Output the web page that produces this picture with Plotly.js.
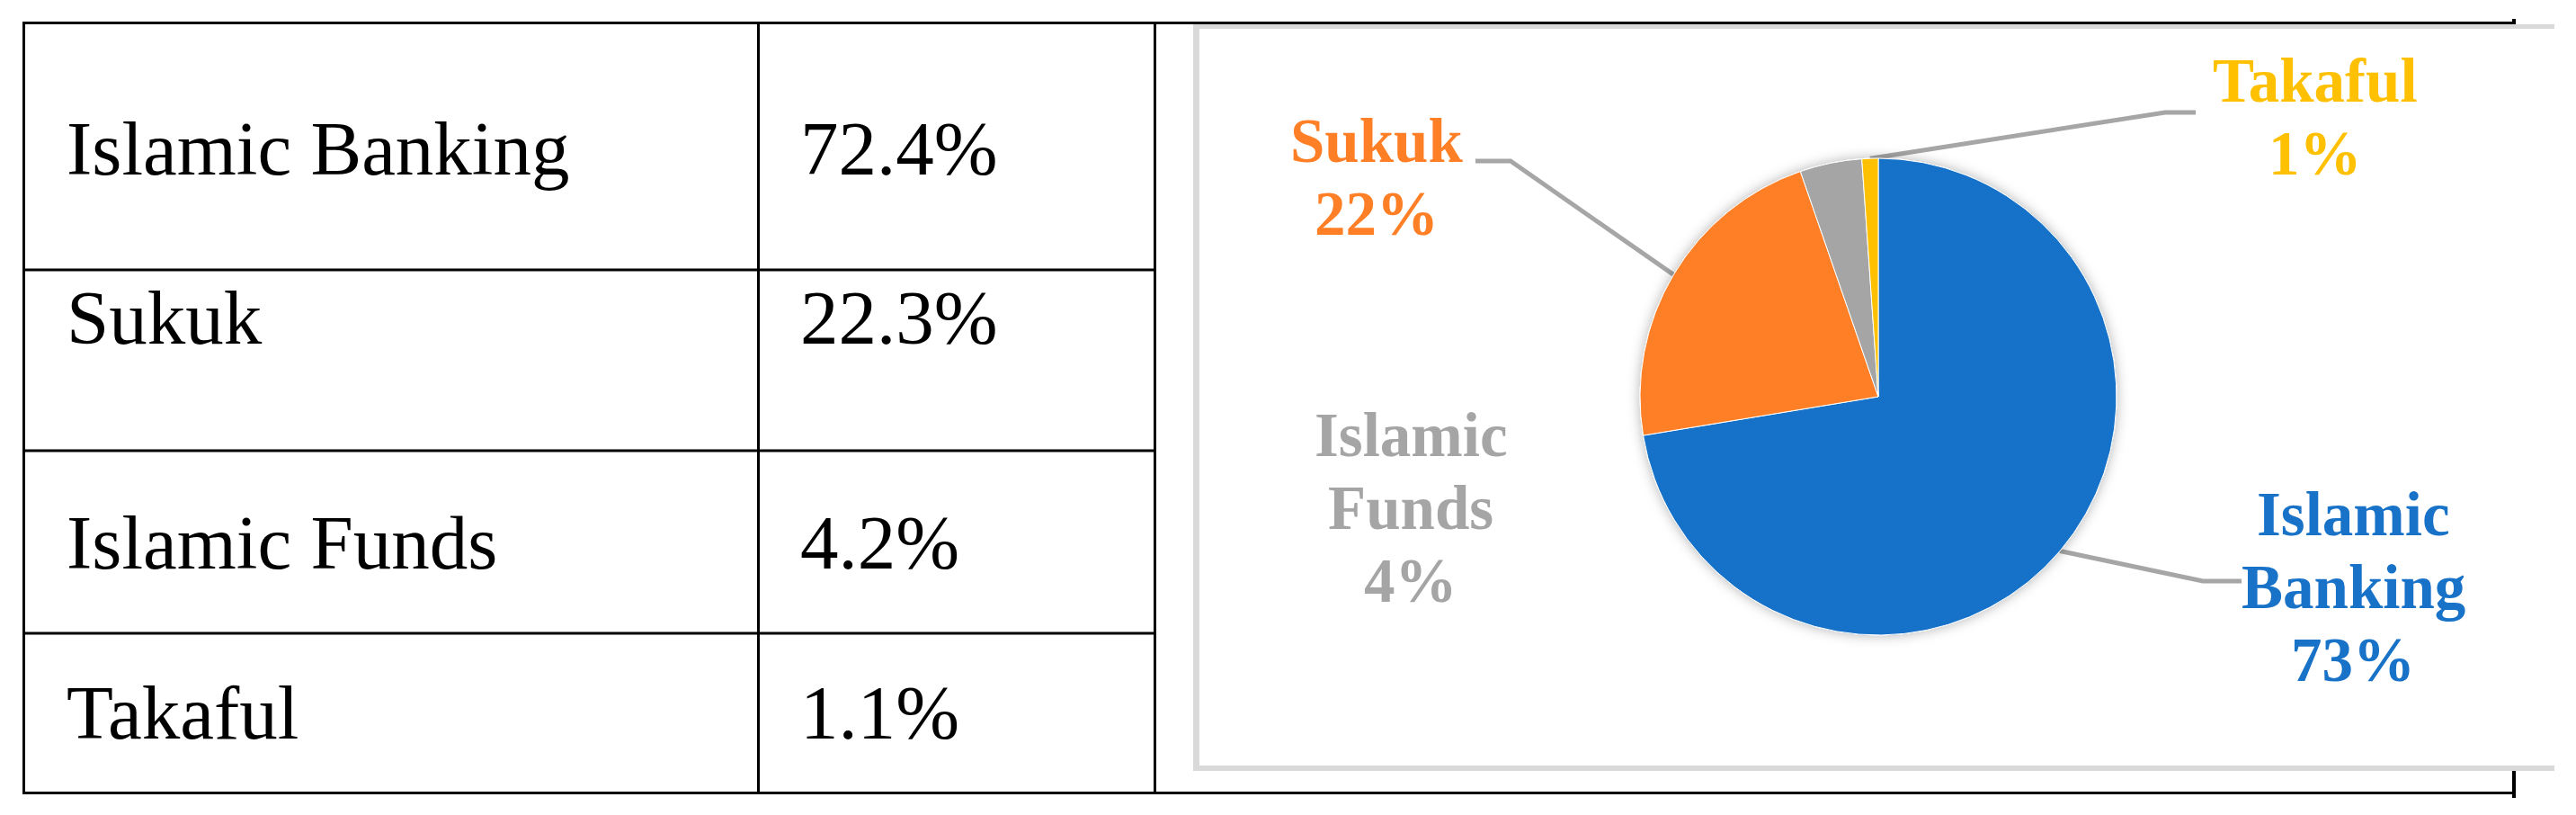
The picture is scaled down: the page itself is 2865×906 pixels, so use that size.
<!DOCTYPE html>
<html>
<head>
<meta charset="utf-8">
<script src="https://cdn.plot.ly/plotly-3.0.1.min.js"></script>
<style>
  html, body { margin: 0; padding: 0; background: #ffffff; }
  #chart { width: 2865px; height: 906px; }
</style>
</head>
<body>
<div id="chart"></div>
<script>
// Data
const categories = ["Islamic Banking", "Sukuk", "Islamic Funds", "Takaful"];
const shares = [72.4, 22.3, 4.2, 1.1];
const pieLabelPct = ["73%", "22%", "4%", "1%"];

// Styles
const sliceColors = ["#1872C8", "#FF7F27", "#A5A5A5", "#FFC000"];
const serif = "Liberation Serif, Times New Roman, serif";

// Layout in page pixels (axes span the whole page, y going down)
const W = 2865, H = 906;
const pieCx = 2089, pieCy = 441, pieR = 265;
const rowTextY = [164.5, 352.5, 603, 792];
const rowLineY = [300, 501, 704];
const labelX = [2617, 1531, 1569, 2575];
const labelY = [572, 157, 484, 90];
const lineStep = 81;
const leaderElbow = [[2450, 646], [1680, 179], null, [2408, 125]];
const leaderEnd = [[2493, 646], [1641, 179], null, [2442, 125]];

const pieTrace = {
  type: "pie",
  labels: categories,
  values: shares,
  sort: false,
  direction: "clockwise",
  rotation: 0,
  textinfo: "none",
  hoverinfo: "label+percent",
  showlegend: false,
  marker: { colors: sliceColors, line: { color: "#ffffff", width: 1 } },
  domain: {
    x: [(pieCx - pieR) / W, (pieCx + pieR) / W],
    y: [1 - (pieCy + pieR) / H, 1 - (pieCy - pieR) / H],
  },
};

// Table grid and chart frame
function line(x0, y0, x1, y1, color, width) {
  return { type: "line", xref: "x", yref: "y", x0: x0, y0: y0, x1: x1, y1: y1,
           layer: "below", line: { color: color, width: width } };
}
const shapes = [
  line(25, 25.5, 2798, 25.5, "#000", 3),
  line(25, 881.5, 2798, 881.5, "#000", 3),
  line(26.5, 24, 26.5, 883, "#000", 3),
  line(843.5, 24, 843.5, 883, "#000", 3),
  line(1284.5, 24, 1284.5, 883, "#000", 3),
  line(2796, 21, 2796, 887, "#000", 4),
];
rowLineY.forEach(function (y) { shapes.push(line(25, y, 1284, y, "#000", 3)); });

// chart picture frame (covers the outer right border)
shapes.push({ type: "rect", xref: "x", yref: "y", x0: 1327, x1: 2841, y0: 27, y1: 857,
              layer: "below", fillcolor: "#ffffff", line: { width: 0 } });
shapes.push(line(1327, 29.5, 2841, 29.5, "#d9d9d9", 5));
shapes.push(line(1327, 854, 2841, 854, "#d9d9d9", 6));
shapes.push(line(1330.5, 27, 1330.5, 857, "#d9d9d9", 7));

// Leader lines from the mid angle of each slice
const total = shares.reduce(function (a, b) { return a + b; }, 0);
let cum = 0;
shares.forEach(function (v, i) {
  const mid = (cum + v / 2) / total * 2 * Math.PI;
  cum += v;
  if (!leaderElbow[i]) return;
  const ex = pieCx + pieR * Math.sin(mid);
  const ey = pieCy - pieR * Math.cos(mid);
  shapes.push({
    type: "path", xref: "x", yref: "y", layer: "below",
    path: "M " + ex + " " + ey + " L " + leaderElbow[i][0] + " " + leaderElbow[i][1] +
          " L " + leaderEnd[i][0] + " " + leaderEnd[i][1],
    line: { color: "#A6A6A6", width: 5 },
  });
});

// Text
const annotations = [];
categories.forEach(function (name, i) {
  annotations.push({ x: 72, y: rowTextY[i], xref: "x", yref: "y", text: name,
    showarrow: false, xanchor: "left", yanchor: "middle",
    font: { family: serif, size: 85, color: "#000" } });
  annotations.push({ x: 888, y: rowTextY[i], xref: "x", yref: "y", text: shares[i].toFixed(1) + "%",
    showarrow: false, xanchor: "left", yanchor: "middle",
    font: { family: serif, size: 85, color: "#000" } });

  const lines = name.split(" ").concat([pieLabelPct[i]]);
  lines.forEach(function (t, k) {
    annotations.push({ x: labelX[i], y: labelY[i] + k * lineStep, xref: "x", yref: "y",
      text: "<b>" + t + "</b>", showarrow: false, xanchor: "center", yanchor: "middle",
      font: { family: serif, size: 69, color: sliceColors[i] } });
  });
});

const layout = {
  width: W,
  height: H,
  margin: { l: 0, r: 0, t: 0, b: 0 },
  paper_bgcolor: "#ffffff",
  plot_bgcolor: "#ffffff",
  showlegend: false,
  xaxis: { range: [0, W], visible: false, fixedrange: true },
  yaxis: { range: [H, 0], visible: false, fixedrange: true },
  shapes: shapes,
  annotations: annotations,
};

Plotly.newPlot("chart", [pieTrace], layout, { displayModeBar: false }).then(function (gd) {
  // soft shadow round the pie, as in the picture
  const ns = "http://www.w3.org/2000/svg";
  const svg = gd.querySelector("svg.main-svg");
  let defs = svg.querySelector("defs");
  if (!defs) { defs = document.createElementNS(ns, "defs"); svg.insertBefore(defs, svg.firstChild); }
  const filter = document.createElementNS(ns, "filter");
  filter.setAttribute("id", "pieShadow");
  filter.setAttribute("x", "-20%");
  filter.setAttribute("y", "-20%");
  filter.setAttribute("width", "140%");
  filter.setAttribute("height", "140%");
  const drop = document.createElementNS(ns, "feDropShadow");
  drop.setAttribute("dx", "0");
  drop.setAttribute("dy", "0");
  drop.setAttribute("stdDeviation", "7");
  drop.setAttribute("flood-color", "#000");
  drop.setAttribute("flood-opacity", "0.3");
  filter.appendChild(drop);
  defs.appendChild(filter);
  const pie = gd.querySelector(".pielayer");
  if (pie) pie.setAttribute("filter", "url(#pieShadow)");
});
</script>
</body>
</html>
